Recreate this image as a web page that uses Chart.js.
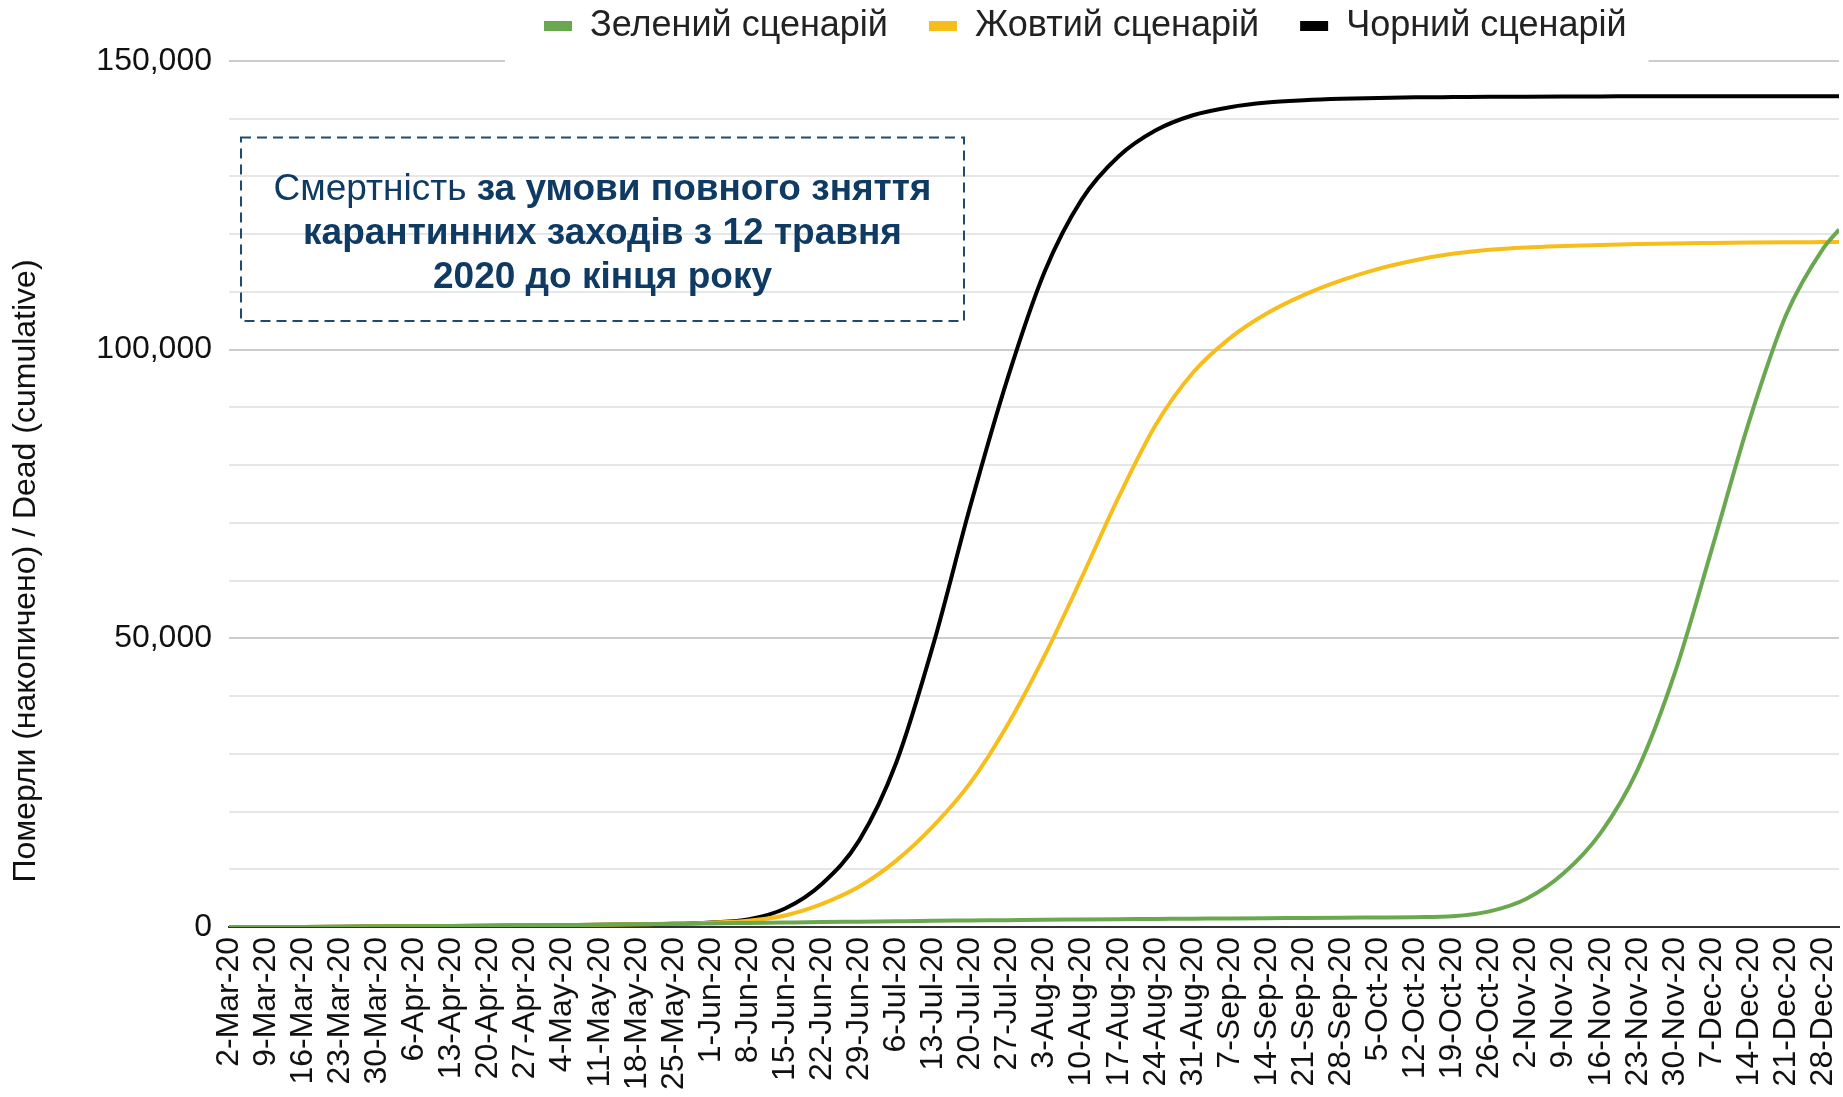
<!DOCTYPE html>
<html>
<head>
<meta charset="utf-8">
<title>Смертність - сценарії</title>
<script src="https://cdn.jsdelivr.net/npm/chart.js@4.4.1/dist/chart.umd.min.js"></script>
<style>
  html, body { margin: 0; padding: 0; background: #fff; }
  #wrap { width: 1843px; height: 1097px; }
</style>
</head>
<body>
<div id="wrap"><canvas id="myChart" width="1843" height="1097"></canvas></div>
<script>
// weekly tick labels (Mondays)
const weekLabels = [
    '2-Mar-20', '9-Mar-20', '16-Mar-20', '23-Mar-20', '30-Mar-20',
    '6-Apr-20', '13-Apr-20', '20-Apr-20', '27-Apr-20',
    '4-May-20', '11-May-20', '18-May-20', '25-May-20',
    '1-Jun-20', '8-Jun-20', '15-Jun-20', '22-Jun-20', '29-Jun-20',
    '6-Jul-20', '13-Jul-20', '20-Jul-20', '27-Jul-20',
    '3-Aug-20', '10-Aug-20', '17-Aug-20', '24-Aug-20', '31-Aug-20',
    '7-Sep-20', '14-Sep-20', '21-Sep-20', '28-Sep-20',
    '5-Oct-20', '12-Oct-20', '19-Oct-20', '26-Oct-20',
    '2-Nov-20', '9-Nov-20', '16-Nov-20', '23-Nov-20', '30-Nov-20',
    '7-Dec-20', '14-Dec-20', '21-Dec-20', '28-Dec-20'
];
// day number since 2-Mar-20 for each weekly point, last point is 31-Dec-20
const weekDays = weekLabels.map((_, i) => i * 7);
const lastDay = 304;
const pointDays = weekDays.concat([lastDay]);

const seriesNames = ['Зелений сценарій', 'Жовтий сценарій', 'Чорний сценарій'];
const seriesColors = ['#6aa84f', '#f7bd1a', '#000000'];

// cumulative deaths (one value per week + 31-Dec)
const greenValues = [
    0, 5, 20, 50, 90, 130, 170, 220, 280, 340, 400, 470, 550,
    620, 700, 780, 860, 930, 1000, 1070, 1130, 1190, 1250, 1300, 1350, 1400, 1450,
    1490, 1530, 1570, 1610, 1650, 1700, 1850, 2700, 4900, 9300, 16300, 27300, 44000,
    65500, 87500, 106000, 117500, 120800
];
const yellowValues = [
    0, 5, 20, 50, 90, 130, 170, 220, 280, 340, 400, 470, 550,
    750, 1100, 2000, 4000, 7000, 11500, 17500, 25000, 35000, 47000, 60500, 74500, 87000, 96000,
    102000, 106300, 109500, 112000, 114000, 115500, 116600, 117300, 117700, 117950, 118150, 118300, 118400,
    118480, 118550, 118600, 118630, 118650
];
const blackValues = [
    0, 5, 20, 50, 90, 130, 170, 220, 280, 340, 400, 470, 550,
    800, 1300, 3200, 7500, 15000, 28500, 49000, 73000, 95000, 113500, 126000, 133500, 138000, 140600,
    142000, 142800, 143200, 143450, 143600, 143700, 143750, 143800, 143820, 143850, 143870, 143890, 143900,
    143900, 143900, 143900, 143900, 143900
];

const yTitle = 'Померли (накопичено) / Dead (cumulative)';
const noteRegular = 'Смертність ';
const noteLines = ['за умови повного зняття', 'карантинних заходів з 12 травня', '2020 до кінця року'];

const fontFamily = '"Liberation Sans", Arial, sans-serif';
const legendShift = { x: 503, y: -33 };
const plotTop = 61;

const toPoints = (values) => pointDays.map((d, i) => ({ x: d, y: values[i] }));

// legend placement, gap in the top gridline, axis title and the dashed note
const extras = {
    id: 'extras',
    beforeUpdate(chart) {
        const lg = chart.legend;
        if (!lg || lg._tweaked) return;
        lg._tweaked = true;
        const fit = lg.fit.bind(lg);
        lg.fit = function () { fit(); this.height = plotTop; };
        const draw = lg.draw.bind(lg);
        lg.draw = function (area) {
            const t = this.top, l = this.left;
            this.top = t + legendShift.y;
            this.left = l + legendShift.x;
            draw(area);
            this.top = t;
            this.left = l;
        };
    },
    beforeDatasetsDraw(chart) {
        const hb = chart.legend.legendHitBoxes;
        if (!hb || !hb.length) return;
        const ctx = chart.ctx;
        const first = hb[0], last = hb[hb.length - 1];
        const x0 = first.left + legendShift.x - 39;
        const x1 = last.left + last.width + legendShift.x + 22;
        const y = chart.scales.y.getPixelForValue(150000);
        ctx.save();
        ctx.fillStyle = '#ffffff';
        ctx.fillRect(x0, y - 3, x1 - x0, 6);
        ctx.restore();
    },
    afterDraw(chart) {
        const ctx = chart.ctx;
        const ca = chart.chartArea;
        ctx.save();

        // y axis title
        ctx.translate(26, 571);
        ctx.rotate(-Math.PI / 2);
        ctx.fillStyle = '#111';
        ctx.font = '32px ' + fontFamily;
        ctx.textAlign = 'center';
        ctx.textBaseline = 'middle';
        ctx.fillText(yTitle, 0, 0);
        ctx.setTransform(1, 0, 0, 1, 0, 0);

        // dashed note box
        const bx = ca.left + 12, by = ca.top + 76.5, bw = 723, bh = 183.5;
        ctx.strokeStyle = '#1f4a72';
        ctx.lineWidth = 2;
        ctx.setLineDash([10, 6]);
        ctx.strokeRect(bx, by, bw, bh);
        ctx.setLineDash([]);

        const cx = bx + bw / 2;
        const regFont = '37px ' + fontFamily;
        const boldFont = 'bold 37px ' + fontFamily;
        ctx.fillStyle = '#0e3a64';
        ctx.textBaseline = 'middle';
        ctx.textAlign = 'left';
        ctx.font = regFont;
        const w1 = ctx.measureText(noteRegular).width;
        ctx.font = boldFont;
        const w2 = ctx.measureText(noteLines[0]).width;
        const x = cx - (w1 + w2) / 2;
        ctx.font = regFont;
        ctx.fillText(noteRegular, x, by + 52.5);
        ctx.font = boldFont;
        ctx.fillText(noteLines[0], x + w1, by + 52.5);
        ctx.textAlign = 'center';
        ctx.fillText(noteLines[1], cx, by + 96);
        ctx.fillText(noteLines[2], cx, by + 140.5);
        ctx.restore();
    }
};

const values = [greenValues, yellowValues, blackValues];
const data = {
    datasets: seriesNames.map((name, i) => ({
        label: name,
        data: toPoints(values[i]),
        borderColor: seriesColors[i],
        backgroundColor: seriesColors[i],
        borderWidth: 4,
        pointRadius: 0,
        cubicInterpolationMode: 'monotone',
        fill: false
    }))
};

const config = {
    type: 'line',
    data,
    options: {
        responsive: false,
        animation: false,
        devicePixelRatio: 1,
        layout: { padding: { top: 0, right: 4, left: 0, bottom: 0 } },
        scales: {
            x: {
                type: 'linear',
                min: 0,
                max: lastDay,
                afterBuildTicks: (scale) => { scale.ticks = weekDays.map(v => ({ value: v })); },
                afterFit: (scale) => {
                    scale.height = 170;
                    scale.paddingLeft = 0;
                    scale.paddingRight = 0;
                },
                grid: { display: false, drawTicks: false },
                border: { display: true, color: '#333333', width: 2 },
                ticks: {
                    autoSkip: false,
                    minRotation: 90,
                    maxRotation: 90,
                    padding: 10,
                    color: '#111',
                    font: { family: fontFamily, size: 32 },
                    callback: (value, index) => weekLabels[index]
                }
            },
            y: {
                min: 0,
                max: 150000,
                afterFit: (scale) => { scale.width = 229; },
                border: { display: false },
                grid: {
                    drawTicks: false,
                    lineWidth: 2,
                    color: (c) => (c.tick && c.tick.value % 50000 === 0) ? '#cccccc' : '#e6e6e6'
                },
                ticks: {
                    stepSize: 10000,
                    padding: 17,
                    color: '#111',
                    font: { family: fontFamily, size: 32 },
                    callback: (v) => v % 50000 === 0 ? v.toLocaleString('en-US') : ''
                }
            }
        },
        plugins: {
            legend: {
                position: 'top',
                align: 'start',
                labels: {
                    boxWidth: 28,
                    boxHeight: 10,
                    padding: 41,
                    color: '#222',
                    font: { family: fontFamily, size: 36 },
                    generateLabels: (chart) => Chart.defaults.plugins.legend.labels.generateLabels(chart)
                        .map(item => Object.assign(item, { lineWidth: 0, fillStyle: item.strokeStyle }))
                }
            },
            tooltip: { enabled: false }
        }
    },
    plugins: [extras]
};

const myChart = new Chart(document.getElementById('myChart'), config);
</script>
</body>
</html>
